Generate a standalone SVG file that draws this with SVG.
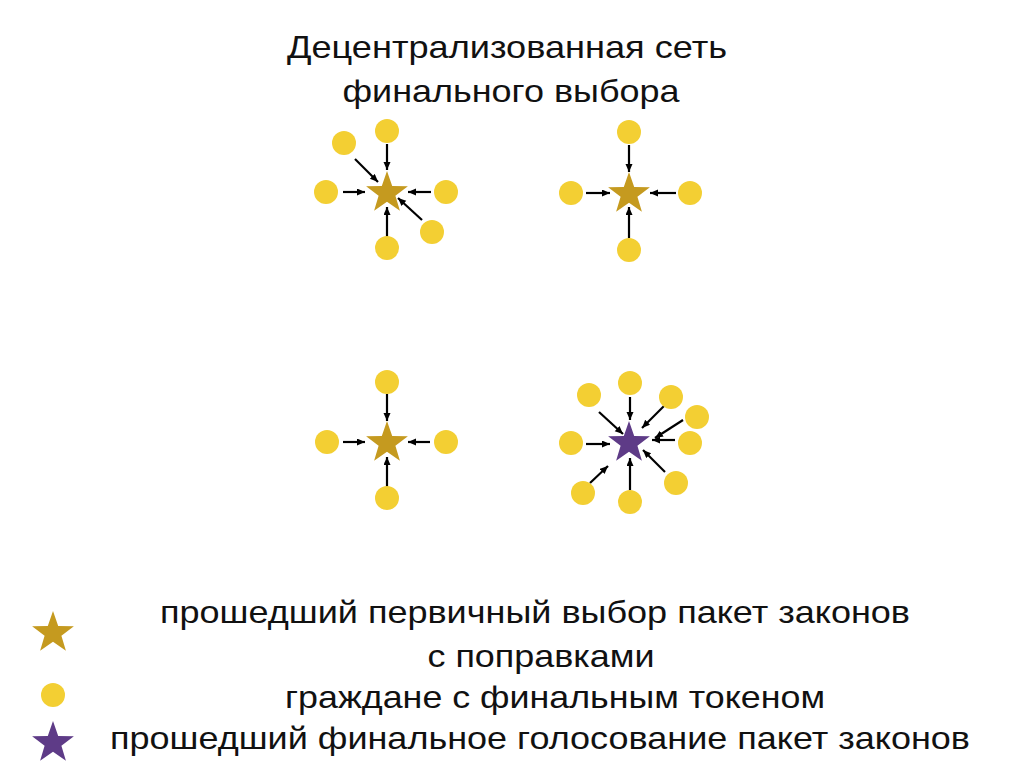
<svg xmlns="http://www.w3.org/2000/svg" xmlns:xlink="http://www.w3.org/1999/xlink" width="1024" height="768" viewBox="0 0 1024 768">
<style>
  .t { font-family: "Liberation Sans", Arial, sans-serif; font-size: 32px; fill: #111; text-anchor: middle; }
  .gold { fill: #C59A1F; }
  .purple { fill: #5E3B87; }
  .cit { fill: #F3CF33; }
  .arr { stroke: #000; stroke-width: 2.2; fill: none; marker-end: url(#ah); }
</style>
<defs>
  <marker id="ah" markerUnits="userSpaceOnUse" markerWidth="9" markerHeight="8" refX="8" refY="3.5" orient="auto">
    <path d="M0,0 L8,3.5 L0,7 Z" fill="#000"/>
  </marker>
  <path id="star" d="M0,-22 L5.2,-7.1 L20.9,-6.8 L8.4,2.7 L12.9,17.8 L0,8.8 L-12.9,17.8 L-8.4,2.7 L-20.9,-6.8 L-5.2,-7.1 Z"/>
</defs>
<rect width="1024" height="768" fill="#fff"/>

<g id="title">
  <text class="t" x="507" y="58" textLength="440" lengthAdjust="spacingAndGlyphs">Децентрализованная сеть</text>
  <text class="t" x="511" y="102" textLength="337" lengthAdjust="spacingAndGlyphs">финального выбора</text>
</g>

<g id="connectors">
  <!-- cluster 1 -->
  <line class="arr" x1="387" y1="144" x2="387" y2="170"/>
  <line class="arr" x1="355" y1="159" x2="378" y2="182"/>
  <line class="arr" x1="343" y1="192" x2="365" y2="192"/>
  <line class="arr" x1="431" y1="192" x2="408" y2="192"/>
  <line class="arr" x1="422" y1="220" x2="398" y2="198"/>
  <line class="arr" x1="387" y1="238" x2="387" y2="207"/>
  <!-- cluster 2 -->
  <line class="arr" x1="629" y1="145" x2="629" y2="172"/>
  <line class="arr" x1="586" y1="193" x2="610" y2="193"/>
  <line class="arr" x1="676" y1="193" x2="650" y2="193"/>
  <line class="arr" x1="629" y1="238" x2="629" y2="207"/>
  <!-- cluster 3 -->
  <line class="arr" x1="387" y1="394" x2="387" y2="421"/>
  <line class="arr" x1="343" y1="442" x2="365" y2="442"/>
  <line class="arr" x1="430" y1="442" x2="408" y2="442"/>
  <line class="arr" x1="387" y1="488" x2="387" y2="457"/>
  <!-- cluster 4 -->
  <line class="arr" x1="630" y1="397" x2="630" y2="420"/>
  <line class="arr" x1="599" y1="412" x2="623" y2="434"/>
  <line class="arr" x1="665" y1="405" x2="642" y2="428"/>
  <line class="arr" x1="683" y1="420" x2="655" y2="438"/>
  <line class="arr" x1="675" y1="440" x2="652" y2="440"/>
  <line class="arr" x1="665" y1="472" x2="643" y2="450"/>
  <line class="arr" x1="630" y1="490" x2="630" y2="458"/>
  <line class="arr" x1="590" y1="483" x2="608" y2="466"/>
  <line class="arr" x1="586" y1="444" x2="610" y2="444"/>
</g>

<g id="cluster1">
  <circle class="cit" cx="387" cy="131" r="12"/>
  <circle class="cit" cx="344" cy="143" r="12"/>
  <circle class="cit" cx="326" cy="192" r="12"/>
  <circle class="cit" cx="446" cy="192" r="12"/>
  <circle class="cit" cx="432" cy="232" r="12"/>
  <circle class="cit" cx="387" cy="248" r="12"/>
  <use xlink:href="#star" href="#star" class="gold" x="387" y="193"/>
</g>

<g id="cluster2">
  <circle class="cit" cx="629" cy="132" r="12"/>
  <circle class="cit" cx="571" cy="193" r="12"/>
  <circle class="cit" cx="690" cy="193" r="12"/>
  <circle class="cit" cx="629" cy="250" r="12"/>
  <use xlink:href="#star" href="#star" class="gold" x="629" y="194"/>
</g>

<g id="cluster3">
  <circle class="cit" cx="387" cy="382" r="12"/>
  <circle class="cit" cx="327" cy="442" r="12"/>
  <circle class="cit" cx="446" cy="442" r="12"/>
  <circle class="cit" cx="387" cy="498" r="12"/>
  <use xlink:href="#star" href="#star" class="gold" x="387" y="443"/>
</g>

<g id="cluster4">
  <circle class="cit" cx="630" cy="383" r="12"/>
  <circle class="cit" cx="589" cy="395" r="12"/>
  <circle class="cit" cx="671" cy="397" r="12"/>
  <circle class="cit" cx="697" cy="417" r="12"/>
  <circle class="cit" cx="690" cy="443" r="12"/>
  <circle class="cit" cx="676" cy="483" r="12"/>
  <circle class="cit" cx="630" cy="502" r="12"/>
  <circle class="cit" cx="583" cy="493" r="12"/>
  <circle class="cit" cx="571" cy="443" r="12"/>
  <use xlink:href="#star" href="#star" class="purple" x="629" y="443"/>
</g>

<g id="legend">
  <use xlink:href="#star" href="#star" class="gold" x="53" y="633"/>
  <circle class="cit" cx="53" cy="695" r="12"/>
  <use xlink:href="#star" href="#star" class="purple" x="53" y="743"/>
  <text class="t" x="535" y="623" textLength="750" lengthAdjust="spacingAndGlyphs">прошедший первичный выбор пакет законов</text>
  <text class="t" x="541" y="667" textLength="227" lengthAdjust="spacingAndGlyphs">с поправками</text>
  <text class="t" x="555" y="708" textLength="540" lengthAdjust="spacingAndGlyphs">граждане с финальным токеном</text>
  <text class="t" x="540" y="749" textLength="860" lengthAdjust="spacingAndGlyphs">прошедший финальное голосование пакет законов</text>
</g>
</svg>
